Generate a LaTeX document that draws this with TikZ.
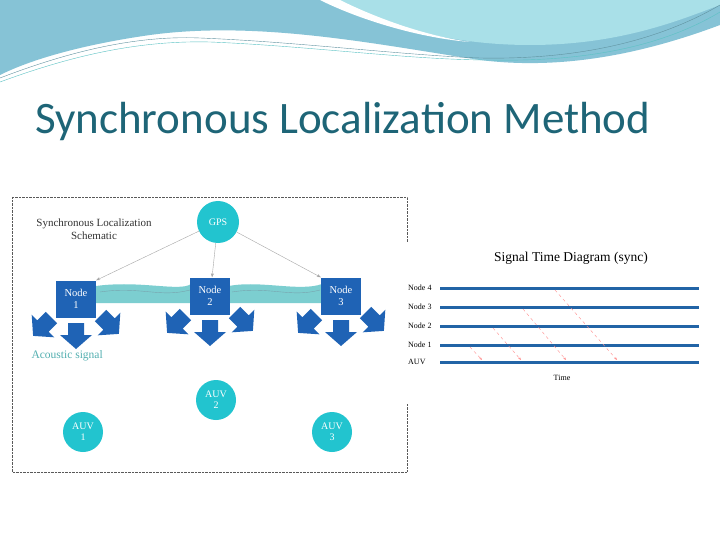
\documentclass[tikz,border=0pt]{standalone}
\usepackage{fontspec}
\setmainfont{Carlito}
\newfontfamily\serifb{Liberation Serif}
\usetikzlibrary{arrows.meta}
\definecolor{teal1}{HTML}{1E6577}
\definecolor{turq}{HTML}{22C4CF}
\definecolor{nblue}{HTML}{1F63B5}
\definecolor{lblue}{HTML}{2264A6}
\definecolor{skyA}{HTML}{86C3D6}
\definecolor{skyB}{HTML}{A9E0E8}
\definecolor{wave}{HTML}{5BC2C4}
\tikzset{
 x=1pt,y=-1pt,
 circ/.style={circle,fill=turq,minimum size=42pt,inner sep=0pt,text=white,font=\serifb\fontsize{10}{11}\selectfont,align=center},
 sq/.style={rectangle,fill=nblue,minimum width=40pt,minimum height=37pt,inner sep=0pt,text=white,font=\serifb\fontsize{10.5}{12}\selectfont,align=center},
 gpsline/.style={draw=gray!70,thin,-{Stealth[length=4pt]}},
 tline/.style={draw=lblue,line width=3pt},
 sig/.style={draw=red!45,thin,dashed},
 lab/.style={font=\serifb\fontsize{8}{9}\selectfont,anchor=west,inner sep=1pt},
 pics/barrow/.style={code={\fill[nblue] (-8,-12)--(8,-12)--(8,0)--(16,0)--(0,14)--(-16,0)--(-8,0)--cycle;}}
}
\begin{document}
\begin{tikzpicture}
\useasboundingbox (0,0) rectangle (720,540);
\fill[white] (0,0) rectangle (720,540);
% top banner
\fill[skyA] (0,0)--(720,0)--(720,25) .. controls (640,55) and (560,70) .. (480,60) .. controls (380,45) and (260,20) .. (150,35) .. controls (80,45) and (30,60) .. (0,75)--cycle;
\fill[skyB] (330,0) .. controls (380,25) and (450,45) .. (530,45) .. controls (620,45) and (680,20) .. (720,5)--(720,0)--cycle;
\fill[white] (320,0) .. controls (360,20) and (420,38) .. (470,42) .. controls (420,35) and (370,15) .. (340,0)--cycle;
\draw[teal1!70,thin] (0,78) .. controls (60,55) and (130,35) .. (200,38) .. controls (300,42) and (400,55) .. (480,58) .. controls (580,60) and (660,40) .. (720,5);
\draw[wave,thin] (0,82) .. controls (60,60) and (130,40) .. (210,42) .. controls (310,46) and (410,60) .. (490,60) .. controls (590,62) and (665,45) .. (720,12);
% title
\node[anchor=base west,text=teal1,font=\fontsize{45}{48}\selectfont,inner sep=0pt] (title) at (35,134) {Synchronous Localization Method};
% left panel
\draw[densely dotted,gray!70!black] (12,197) rectangle (407,472);
\node[font=\serifb\fontsize{11}{13}\selectfont,align=center,text=black!80] (sch) at (94,229) {Synchronous Localization\\Schematic};
% water
\fill[wave!80] (96,286) .. controls (140,280) and (180,292) .. (191,284)--(191,303)--(96,303)--cycle;
\fill[wave!80] (229,286) .. controls (260,280) and (300,292) .. (322,284)--(322,303)--(229,303)--cycle;
\draw[teal1!60,thin] (100,292) .. controls (140,286) and (160,298) .. (190,290);
\draw[teal1!60,thin] (232,292) .. controls (270,286) and (290,298) .. (320,290);
\node[circ] (gps) at (218,222) {GPS};
\node[sq] (n1) at (76,299) {Node\\1};
\node[sq] (n2) at (210,296) {Node\\2};
\node[sq] (n3) at (341,296) {Node\\3};
\draw[gpsline] (gps) -- (n1.north east);
\draw[gpsline] (gps) -- (n2);
\draw[gpsline] (gps) -- (n3.north west);
\foreach \n/\x/\y in {1/76/320,2/210/317,3/341/317}{
  \pic at (\x,\y+15) {barrow};
  \pic[rotate=-45] at (\x-33,\y+6) {barrow};
  \pic[rotate=45] at (\x+33,\y+4) {barrow};
}
\node[anchor=west,text=wave!90!black,font=\serifb\fontsize{11.5}{13}\selectfont] (ac) at (28,356) {Acoustic signal};
\node[circ,minimum size=40pt] (a2) at (216,400) {AUV\\2};
\node[circ,minimum size=40pt] (a1) at (83,432) {AUV\\1};
\node[circ,minimum size=40pt] (a3) at (332,432) {AUV\\3};
% right panel
\fill[white] (407,243) rectangle (720,403);
\node[font=\serifb\fontsize{13.5}{15}\selectfont] (st) at (571,258) {Signal Time Diagram (sync)};
\foreach \nm/\yy/\t in {t4/288/Node 4,t3/307/Node 3,t2/326/Node 2,t1/345/Node 1,t0/362/AUV}{
  \coordinate (\nm s) at (440,\yy); \coordinate (\nm e) at (699,\yy);
  \draw[tline] (\nm s) -- (\nm e);
  \node[lab] (\nm l) at (407,\yy) {\t};
}
\coordinate (s1a) at (470,347); \coordinate (s1b) at (482,360);
\coordinate (s2a) at (493,328); \coordinate (s2b) at (521,360);
\coordinate (s3a) at (523,309); \coordinate (s3b) at (566,360);
\coordinate (s4a) at (555,290); \coordinate (s4b) at (617,360);
\foreach \s in {1,2,3,4}{\draw[sig,-{Stealth[length=3pt]}] (s\s a) -- (s\s b);}
\node[font=\serifb\fontsize{8}{9}\selectfont] (time) at (562,378) {Time};
\end{tikzpicture}
\end{document}
